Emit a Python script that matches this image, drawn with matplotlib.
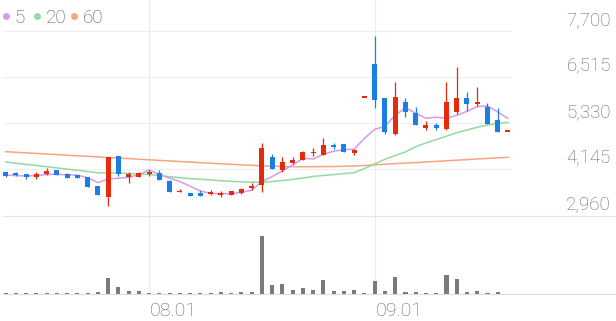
import matplotlib
matplotlib.use("Agg")
import matplotlib.pyplot as plt
import matplotlib.transforms as mtransforms
from matplotlib.lines import Line2D

# ---------------- data ----------------
tick_index = [14, 36]
tick_labels = ["08.01", "09.01"]
y_ticks = [2960, 4145, 5330, 6515, 7700]
legend_labels = ["5", "20", "60"]

opens = [4060, 4050, 4015, 3945, 4015, 4120, 4025, 3985, 3930, 3705,
         3430, 4480, 3930, 3945, 4010, 4035, 3845, 3550, 3535, 3535,
         3500, 3465, 3465, 3520, 3655, 3735, 4460, 4120, 4305, 4375,
         4545, 4505, 4765, 4790, 4565, 6000, 6840, 5970, 5040, 5880,
         5600, 5210, 5280, 5170, 5620, 5965, 5820, 5750, 5410, 5115]
highs = [4080, 4060, 4020, 4070, 4180, 4120, 4030, 3985, 3935, 3710,
         4460, 4485, 4060, 4075, 4110, 4120, 3850, 3620, 3535, 3605,
         3605, 3585, 3570, 3665, 3790, 4805, 4530, 4460, 4460, 4610,
         4675, 4950, 4805, 4790, 4660, 6000, 7580, 5975, 6395, 5965,
         5740, 5380, 5340, 6380, 6780, 6130, 6265, 5840, 5710, 5130]
lows = [3950, 3975, 3895, 3880, 3990, 3990, 3920, 3905, 3690, 3465,
        3190, 3965, 3775, 3945, 3970, 3860, 3550, 3550, 3440, 3445,
        3475, 3430, 3465, 3500, 3605, 3560, 4150, 4075, 4275, 4375,
        4490, 4505, 4660, 4575, 4505, 6000, 5720, 5040, 5020, 5490,
        5290, 5150, 5150, 5160, 5560, 5640, 5770, 5305, 5105, 5115]
closes = [3970, 3985, 3945, 4015, 4100, 3990, 3920, 3905, 3690, 3465,
          4460, 4015, 4015, 4050, 4075, 3860, 3550, 3585, 3440, 3450,
          3560, 3520, 3570, 3635, 3705, 4680, 4155, 4320, 4375, 4575,
          4595, 4765, 4705, 4575, 4640, 6000, 5920, 5090, 6000, 5605,
          5290, 5285, 5210, 5880, 5965, 5820, 5880, 5305, 5105, 5130]
volumes = [14, 14, 14, 14, 14, 14, 14, 14, 30, 34,
           314, 134, 60, 54, 26, 26, 26, 20, 20, 26,
           26, 34, 26, 34, 40, 1154, 186, 200, 86, 126,
           80, 286, 54, 54, 74, 20, 254, 54, 334, 40,
           34, 26, 26, 374, 300, 46, 60, 26, 34, 10]
ma5 = [3990, 3975, 3965, 3975, 4003, 4007, 3994, 3986, 3921, 3794,
       3888, 3907, 3929, 4001, 4123, 4003, 3910, 3824, 3702, 3577,
       3517, 3511, 3508, 3547, 3598, 3822, 3949, 4099, 4247, 4421,
       4404, 4526, 4603, 4643, 4656, 4937, 5168, 5245, 5530, 5723,
       5581, 5454, 5478, 5454, 5526, 5632, 5751, 5770, 5615, 5448]
ma20 = [4325, 4294, 4263, 4235, 4204, 4173, 4142, 4112, 4081, 4050,
        4048, 4042, 4029, 4016, 4003, 3978, 3947, 3921, 3895, 3880,
        3862, 3844, 3828, 3815, 3805, 3802, 3823, 3849, 3874, 3913,
        3954, 3978, 4001, 4027, 4050, 4158, 4274, 4397, 4493, 4585,
        4720, 4815, 4902, 4990, 5080, 5150, 5219, 5278, 5322, 5348]
ma60 = [4591, 4575, 4560, 4547, 4531, 4516, 4500, 4485, 4472, 4457,
        4441, 4426, 4413, 4397, 4382, 4366, 4351, 4338, 4323, 4307,
        4294, 4279, 4266, 4253, 4240, 4227, 4217, 4209, 4204, 4204,
        4204, 4207, 4209, 4215, 4222, 4235, 4253, 4269, 4284, 4297,
        4310, 4325, 4341, 4356, 4372, 4387, 4403, 4418, 4434, 4446]

# ---------------- style ----------------
RED = "#e52b0c"
BLUE = "#1a7ee6"
C_MA5 = "#d49af0"
C_MA20 = "#93dba0"
C_MA60 = "#f7a47e"
GRID = "#efefef"
TXT = "#666666"
FONT = ["Roboto", "DejaVu Sans"]

W, H = 616, 321
fig = plt.figure(figsize=(W / 100, H / 100), dpi=100)
fig.patch.set_facecolor("white")

ax = fig.add_axes([3 / W, 1 - 215 / H, 509 / W, 215 / H])
axv = fig.add_axes([3 / W, 1 - 294 / H, 509 / W, 79 / H])
for a in (ax, axv):
    a.set_axis_off()
    a.set_xlim(-0.263, 49.395)
ax.set_ylim(2960, 8498.6)
axv.set_ylim(0, max(volumes) * 79 / 57.7)

n = len(closes)
xs = list(range(n))
px_price = (8498.6 - 2960) / 215.0

# grid
for v in y_ticks[1:]:
    ax.axhline(v, color=GRID, lw=0.8, zorder=0)
for t in tick_index:
    ax.axvline(t, color="#ececec", lw=0.8, zorder=0)
    axv.axvline(t, color="#ececec", lw=0.8, zorder=0)
fig.add_artist(Line2D([3 / W, 1], [1 - 215.5 / H] * 2, color="#e6e6e6", lw=0.8,
                      transform=fig.transFigure))
fig.add_artist(Line2D([3 / W, 1], [1 - 293.5 / H] * 2, color="#dddddd", lw=0.8,
                      transform=fig.transFigure, zorder=5))

# moving averages
ax.plot(xs, ma60, color=C_MA60, lw=1.1, zorder=2)
ax.plot(xs, ma20, color=C_MA20, lw=1.1, zorder=2)
ax.plot(xs, ma5, color=C_MA5, lw=1.1, zorder=2)

# candles
for i in xs:
    o, h, l, c = opens[i], highs[i], lows[i], closes[i]
    col = RED if c >= o else BLUE
    ax.vlines(i, l, h, color=col, lw=0.9, zorder=3)
    bot = min(o, c)
    ht = abs(c - o)
    minh = 1.6 * px_price
    if ht < minh:
        bot = (o + c) / 2 - minh / 2
        ht = minh
    ax.bar(i, ht, bottom=bot, width=0.48, color=col, zorder=4, linewidth=0)

# volume
axv.bar(xs, volumes, width=0.4, color="#7a7a7a", linewidth=0, zorder=3)

# y labels (right)
tr_y = mtransforms.offset_copy(ax.get_yaxis_transform(), fig=fig, x=99, y=5.5, units="dots")
for v in y_ticks:
    ax.text(1.0, v, f"{v:,}", transform=tr_y, ha="right", va="baseline",
            fontsize=13.5, color=TXT, family=FONT, fontweight="light")

# x labels
tr_x = mtransforms.offset_copy(axv.get_xaxis_transform(), fig=fig, x=1, y=-22, units="dots")
for t, lab in zip(tick_index, tick_labels):
    axv.text(t, 0, lab, transform=tr_x, ha="left", va="baseline",
             fontsize=14, color=TXT, family=FONT, fontweight="light")

# legend
leg_cols = [C_MA5, C_MA20, C_MA60]
dot_x = [6, 36.7, 74]
txt_x = [14.5, 46, 83]
for lab, col, dx, tx in zip(legend_labels, leg_cols, dot_x, txt_x):
    fig.add_artist(Line2D([dx / W], [1 - 15.7 / H], marker="o", markersize=5.0,
                          color=col, markeredgewidth=0, transform=fig.transFigure))
    fig.text(tx / W, 1 - 15.7 / H, lab, ha="left", va="center_baseline",
             fontsize=13.5, color="#555555", family=FONT, fontweight="light")

fig.savefig("out.png", dpi=100, facecolor="white")
